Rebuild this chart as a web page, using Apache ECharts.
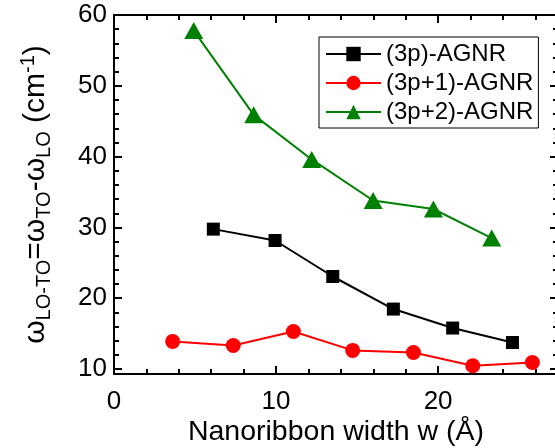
<!DOCTYPE html>
<html><head><meta charset="utf-8">
<script src="https://cdn.jsdelivr.net/npm/echarts@6/dist/echarts.min.js"></script>
<style>html,body{margin:0;padding:0;background:#fff}#c{width:555px;height:448px}</style>
</head><body><div id="c"></div>
<script>
// ---- data ----
const seriesNames = ['(3p)-AGNR', '(3p+1)-AGNR', '(3p+2)-AGNR'];
const x3p  = [6.13, 9.94, 13.50, 17.24, 20.90, 24.59];
const y3p  = [29.76, 28.15, 23.07, 18.47, 15.79, 13.75];
const x3p1 = [3.62, 7.36, 11.07, 14.73, 18.48, 22.14, 25.82];
const y3p1 = [13.90, 13.33, 15.31, 12.63, 12.34, 10.46, 10.93];
const x3p2 = [4.92, 8.62, 12.20, 15.99, 19.71, 23.31];
const y3p2 = [57.8, 45.9, 39.6, 33.8, 32.6, 28.5];
const xMajor = [0, 10, 20];
const xMinor = [2, 4, 6, 8, 12, 14, 16, 18, 22, 24, 26];
const yMajor = [10, 20, 30, 40, 50, 60];
const yMinor = [12, 14, 16, 18, 22, 24, 26, 28, 32, 34, 36, 38, 42, 44, 46, 48, 52, 54, 56, 58];
const xTitle = 'Nanoribbon width w (Å)';

// ---- style ----
const FONT = '"Liberation Sans", Arial, sans-serif';
const XMIN = 0, XMAX = 27.4, YMIN = 9.3, YMAX = 60;
const gridBox = { left: 114, right: -3, top: 15, bottom: 74, outerBoundsMode: 'none', containLabel: false };
const lineCol = '#000';

function xAx(gridIndex, position, ticks, len, showLine, label) {
  return {
    type: 'value', gridIndex, position, min: XMIN, max: XMAX,
    axisLine: { show: showLine, onZero: false, lineStyle: { color: lineCol, width: 2 } },
    axisTick: { show: true, inside: true, length: len, customValues: ticks, lineStyle: { color: lineCol, width: 2 } },
    axisLabel: label ? { show: true, customValues: ticks, fontSize: 26, fontFamily: FONT, color: '#000', margin: 15 } : { show: false },
    splitLine: { show: false }
  };
}
function yAx(gridIndex, position, ticks, len, showLine, label) {
  return {
    type: 'value', gridIndex, position, min: YMIN, max: YMAX,
    axisLine: { show: showLine, onZero: false, lineStyle: { color: lineCol, width: 2 } },
    axisTick: { show: true, inside: true, length: len, customValues: ticks, lineStyle: { color: lineCol, width: 2 } },
    axisLabel: label ? { show: true, customValues: ticks, fontSize: 26, fontFamily: FONT, color: '#000', margin: 7 } : { show: false },
    splitLine: { show: false }
  };
}

const xAxes = [
  Object.assign(xAx(0, 'bottom', xMajor, 8, true, true), {
    name: xTitle, nameLocation: 'middle', nameGap: 44, nameMoveOverlap: false,
    nameTextStyle: { fontSize: 28.5, fontFamily: FONT, color: '#000' }
  }),
  xAx(0, 'top', xMajor, 8, true, false),
  xAx(1, 'bottom', xMinor, 5, false, false),
  xAx(1, 'top', xMinor, 5, false, false)
];
const yAxes = [
  Object.assign(yAx(0, 'left', yMajor, 8, true, true), {
    name: '{w|ω}{s|LO-TO}{w|=ω}{s|TO}{w|-ω}{s|LO}{w| (cm}{p|-1}{w|)}',
    nameLocation: 'middle', nameGap: 60, nameRotate: 90, nameMoveOverlap: false,
    nameTextStyle: {
      fontFamily: FONT, color: '#000', fontSize: 30,
      rich: {
        w: { fontSize: 30, fontFamily: FONT, color: '#000', lineHeight: 36 },
        s: { fontSize: 20, fontFamily: FONT, color: '#000', verticalAlign: 'bottom', lineHeight: 20 },
        p: { fontSize: 20, fontFamily: FONT, color: '#000', verticalAlign: 'top', lineHeight: 20 }
      }
    }
  }),
  yAx(0, 'right', yMajor, 8, false, false),
  yAx(1, 'left', yMinor, 5, false, false),
  yAx(1, 'right', yMinor, 5, false, false)
];

function pts(xs, ys) { return xs.map((v, i) => [v, ys[i]]); }

const chart = echarts.init(document.getElementById('c'), null, { renderer: 'canvas' });
chart.setOption({
  animation: false,
  backgroundColor: '#fff',
  grid: [Object.assign({}, gridBox), Object.assign({}, gridBox)],
  xAxis: xAxes,
  yAxis: yAxes,
  legend: {
    data: seriesNames,
    orient: 'vertical', left: 319, top: 37,
    itemWidth: 55, itemHeight: 18, itemGap: 5,
    padding: [5, 5, 4, 6],
    borderColor: '#000', borderWidth: 1, borderRadius: 0, backgroundColor: '#fff',
    textStyle: { fontSize: 24, fontFamily: FONT, color: '#000', lineHeight: 24 }
  },
  series: [
    { name: seriesNames[0], type: 'line', xAxisIndex: 0, yAxisIndex: 0, data: pts(x3p, y3p),
      symbol: 'rect', symbolSize: 13, color: '#000',
      itemStyle: { color: '#000' }, lineStyle: { color: '#000', width: 2 } },
    { name: seriesNames[1], type: 'line', xAxisIndex: 0, yAxisIndex: 0, data: pts(x3p1, y3p1),
      symbol: 'circle', symbolSize: 15, color: '#ff0000',
      itemStyle: { color: '#ff0000' }, lineStyle: { color: '#ff0000', width: 2 } },
    { name: seriesNames[2], type: 'line', xAxisIndex: 0, yAxisIndex: 0, data: pts(x3p2, y3p2),
      symbol: 'triangle', symbolSize: [19, 17], color: '#008000',
      itemStyle: { color: '#008000' }, lineStyle: { color: '#008000', width: 2 } }
  ]
});
</script></body></html>
